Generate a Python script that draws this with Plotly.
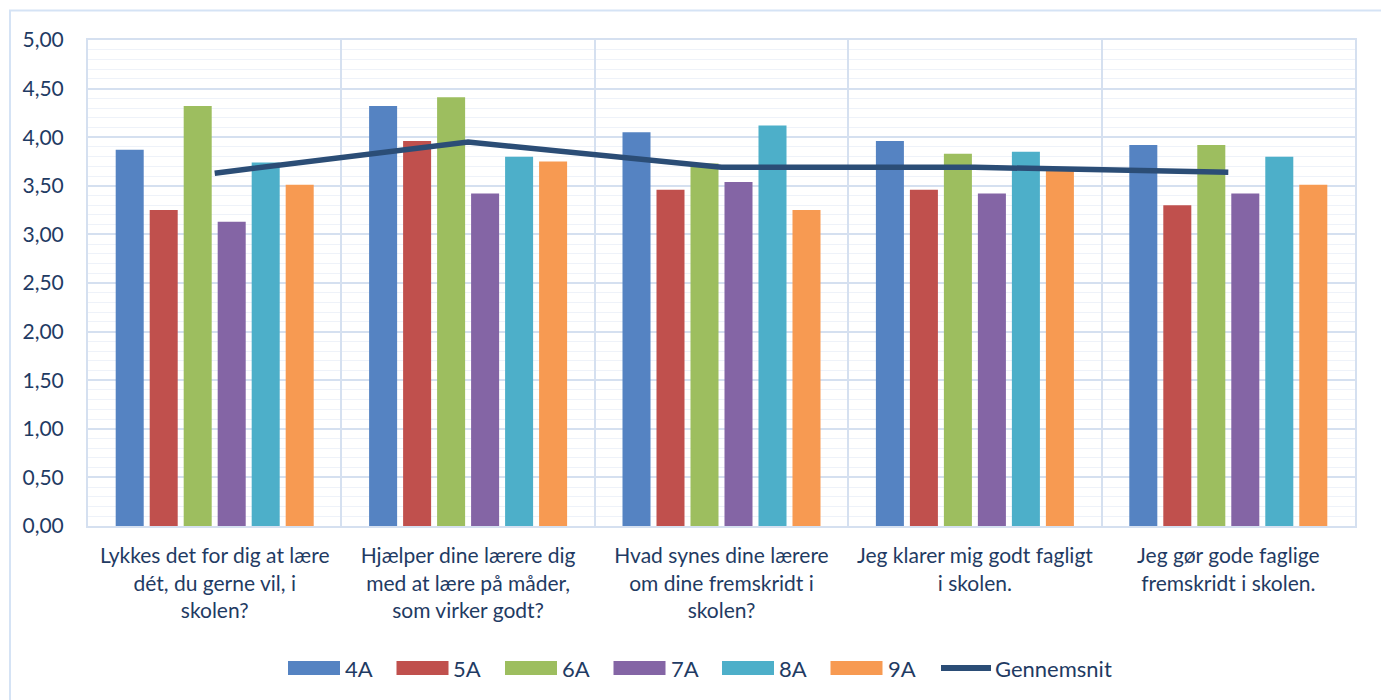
import plotly.graph_objects as go

# spørgsmål (x-akse)
questions = [
    "Lykkes det for dig at lære<br>dét, du gerne vil, i<br>skolen?",
    "Hjælper dine lærere dig<br>med at lære på måder,<br>som virker godt?",
    "Hvad synes dine lærere<br>om dine fremskridt i<br>skolen?",
    "Jeg klarer mig godt fagligt<br>i skolen.",
    "Jeg gør gode faglige<br>fremskridt i skolen.",
]

classes = ["4A", "5A", "6A", "7A", "8A", "9A"]
values = {
    "4A": [3.87, 4.32, 4.05, 3.96, 3.92],
    "5A": [3.25, 3.96, 3.46, 3.46, 3.30],
    "6A": [4.32, 4.41, 3.73, 3.83, 3.92],
    "7A": [3.13, 3.42, 3.54, 3.42, 3.42],
    "8A": [3.74, 3.80, 4.12, 3.85, 3.80],
    "9A": [3.51, 3.75, 3.25, 3.66, 3.51],
}
average = [3.63, 3.95, 3.69, 3.69, 3.64]
avg_name = "Gennemsnit"

colors = {
    "4A": "#5583C2",
    "5A": "#C0504D",
    "6A": "#9DBE5F",
    "7A": "#8465A5",
    "8A": "#4DAFC9",
    "9A": "#F79A52",
}
LINE_C = "#2B4D76"
TXT = "#1F3B63"
GRID = "#D5E0F0"
FONT = "Lato, 'Open Sans', sans-serif"

# plotområde i skærm-pixels (til manuel legende)
PX0, PX1, PY0, PY1 = 88, 1355, 40, 526


def px(x):
    return (x - PX0) / (PX1 - PX0)


def py(y):
    return (PY1 - y) / (PY1 - PY0)


fig = go.Figure()
for c in classes:
    fig.add_trace(go.Bar(x=questions, y=values[c], name=c,
                         marker=dict(color=colors[c], line_width=0)))
fig.add_trace(go.Scatter(x=questions, y=average, name=avg_name, mode="lines",
                         line=dict(color=LINE_C, width=5.5)))

fig.update_layout(
    width=1389, height=700,
    paper_bgcolor="white", plot_bgcolor="white",
    margin=dict(l=80, r=42, t=32, b=182),
    font=dict(family=FONT, size=21, color=TXT),
    separators=", ",
    barmode="group", bargap=0.195, bargroupgap=0.176,
    showlegend=False,
    xaxis=dict(tickson="boundaries", showgrid=True, gridcolor=GRID, gridwidth=2,
               showline=True, linecolor=GRID, linewidth=2, mirror=True,
               tickangle=0, automargin=False,
               tickfont=dict(size=21, color=TXT), ticks="", ticklabelstandoff=10),
    yaxis=dict(range=[0, 5], dtick=0.5, tickformat=".2f", showgrid=True,
               gridcolor=GRID, gridwidth=2, automargin=False,
               minor=dict(dtick=0.1, showgrid=True, gridcolor="#EEF2F9", gridwidth=1),
               showline=True, linecolor=GRID, linewidth=2, mirror=True,
               zeroline=False, tickfont=dict(size=21, color=TXT), ticklabelstandoff=18),
)

# manuel legende
sw_x, pitch, ly = 288, 108.5, 668
for i, c in enumerate(classes):
    x0 = sw_x + pitch * i
    fig.add_shape(type="rect", xref="paper", yref="paper",
                  x0=px(x0), x1=px(x0 + 52), y0=py(ly + 7), y1=py(ly - 7),
                  fillcolor=colors[c], line_width=0)
    fig.add_annotation(text=c, xref="paper", yref="paper", x=px(x0 + 55), y=py(ly),
                       xanchor="left", yanchor="middle", showarrow=False,
                       font=dict(size=22, color=TXT))
lx0 = sw_x + pitch * 6
fig.add_shape(type="line", xref="paper", yref="paper",
              x0=px(lx0 + 2), x1=px(lx0 + 52), y0=py(ly), y1=py(ly),
              line=dict(color=LINE_C, width=6))
fig.add_annotation(text=avg_name, xref="paper", yref="paper", x=px(lx0 + 54), y=py(ly),
                   xanchor="left", yanchor="middle", showarrow=False,
                   font=dict(size=22, color=TXT))

# ydre ramme
fig.add_shape(type="rect", xref="paper", yref="paper",
              x0=px(10), x1=px(1385), y0=py(720), y1=py(10.5),
              line=dict(color="#D5E3F5", width=2), layer="below")

fig.write_html("out.html")
